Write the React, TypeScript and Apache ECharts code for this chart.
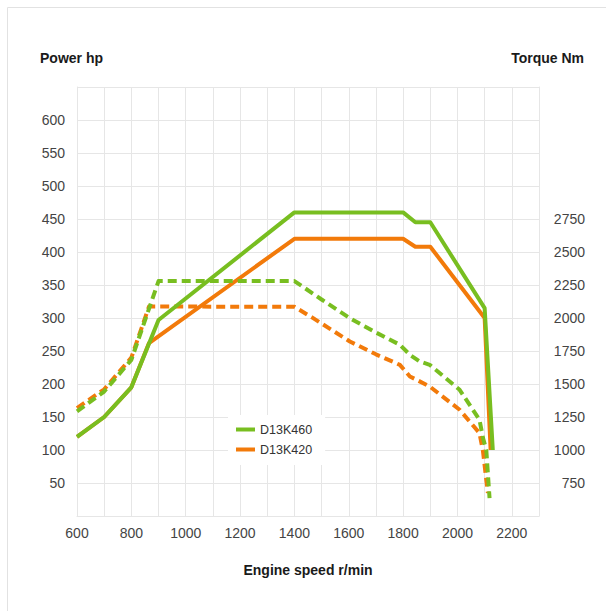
import React, { useEffect, useRef } from "react";
import * as echarts from "echarts";

// Engine speed (r/min) and values for each curve
const d13k460PowerRpm = [600, 700, 800, 900, 1400, 1800, 1845, 1900, 2100, 2130];
const d13k460PowerHp = [120, 150, 195, 297, 460, 460, 445, 445, 315, 100];

const d13k420PowerRpm = [600, 700, 800, 865, 1400, 1800, 1845, 1900, 2100, 2122];
const d13k420PowerHp = [120, 150, 195, 262, 420, 420, 408, 408, 300, 100];

const d13k460TorqueRpm = [600, 700, 800, 900, 1400, 1500, 1604, 1700, 1788, 1825, 1862, 1898, 2008, 2081, 2094, 2106, 2118];
const d13k460TorqueNm = [1292, 1443, 1683, 2280, 2280, 2140, 1999, 1890, 1797, 1721, 1670, 1645, 1456, 1229, 1090, 1002, 636];

const d13k420TorqueRpm = [600, 700, 800, 865, 1400, 1469, 1604, 1700, 1788, 1825, 1898, 2008, 2081, 2094, 2106, 2112];
const d13k420TorqueNm = [1318, 1460, 1700, 2087, 2085, 1999, 1822, 1725, 1645, 1557, 1481, 1305, 1128, 989, 775, 674];

const seriesNames = ["D13K460", "D13K420"];
const xLabels = { min: 600, max: 2300, step: 100 };
const powerTicks = { min: 0, max: 650, step: 50, showFrom: 50, showTo: 600 };
const torqueTicks = { min: 500, max: 3750, step: 250, showFrom: 750, showTo: 2750 };

const GREEN = "#78be20";
const ORANGE = "#f27a0a";
const GRID = "#e6e6e6";
const FONT = "'Liberation Sans', Arial, Helvetica, sans-serif";

const zip = (xs: number[], ys: number[]) => xs.map((x, i) => [x, ys[i]]);

export default function App() {
  const ref = useRef<HTMLDivElement>(null);
  useEffect(() => {
    if (!ref.current) return;
    const chart = echarts.init(ref.current, undefined, { renderer: "svg" });
    const solid = (color: string, w = 4) => ({ color, width: w, type: "solid" as const, cap: "butt" as const, join: "round" as const });
    const dashed = (color: string) => ({ color, width: 4, type: [9, 5], cap: "butt" as const, join: "round" as const });
    chart.setOption({
      animation: false,
      backgroundColor: "#fff",
      textStyle: { fontFamily: FONT },
      grid: { left: 77, right: 67, top: 87, height: 429, containLabel: false },
      legend: {
        data: seriesNames,
        orient: "vertical",
        left: 228,
        top: 415,
        icon: "rect",
        itemWidth: 19,
        itemHeight: 4,
        itemGap: 7,
        padding: [8, 13, 9, 8],
        backgroundColor: "#ffffff",
        textStyle: { fontSize: 12.5, color: "#333", fontFamily: FONT },
        selectedMode: false,
      },
      xAxis: {
        type: "value",
        min: xLabels.min,
        max: xLabels.max,
        interval: xLabels.step,
        name: "Engine speed r/min",
        nameLocation: "middle",
        nameGap: 47,
        nameTextStyle: { fontSize: 14, fontWeight: "bold", color: "#1a1a1a", fontFamily: FONT },
        axisLine: { show: true, lineStyle: { color: GRID } },
        axisTick: { show: false },
        splitLine: { show: true, lineStyle: { color: GRID, width: 1 } },
        axisLabel: {
          fontSize: 14,
          color: "#444",
          margin: 10,
          formatter: (v: number) => ((v - xLabels.min) % 200 === 0 && v < xLabels.max ? String(v) : ""),
        },
      },
      yAxis: [
        {
          type: "value",
          min: powerTicks.min,
          max: powerTicks.max,
          interval: powerTicks.step,
          axisLine: { show: true, lineStyle: { color: GRID } },
          axisTick: { show: false },
          splitLine: { show: true, lineStyle: { color: GRID, width: 1 } },
          axisLabel: {
            fontSize: 14,
            color: "#444",
            margin: 12,
            formatter: (v: number) => (v >= powerTicks.showFrom && v <= powerTicks.showTo ? String(v) : ""),
          },
        },
        {
          type: "value",
          position: "right",
          min: torqueTicks.min,
          max: torqueTicks.max,
          interval: torqueTicks.step,
          axisLine: { show: true, lineStyle: { color: GRID } },
          axisTick: { show: false },
          splitLine: { show: false },
          axisLabel: {
            fontSize: 14,
            color: "#444",
            margin: 46,
            align: "right",
            formatter: (v: number) => (v >= torqueTicks.showFrom && v <= torqueTicks.showTo ? String(v) : ""),
          },
        },
      ],
      graphic: [
        {
          type: "rect",
          silent: true,
          shape: { x: 7.5, y: 7.5, width: 700, height: 700 },
          style: { fill: "none", stroke: "#e2e2e2", lineWidth: 1 },
        },
        {
          type: "text",
          x: 40,
          y: 58,
          style: { text: "Power hp", fontSize: 14, fontWeight: "bold", fill: "#1a1a1a", fontFamily: FONT, align: "left", verticalAlign: "middle" },
        },
        {
          type: "text",
          x: 584,
          y: 58,
          style: { text: "Torque Nm", fontSize: 14, fontWeight: "bold", fill: "#1a1a1a", fontFamily: FONT, align: "right", verticalAlign: "middle" },
        },
      ],
      series: [
        {
          name: seriesNames[0],
          type: "line",
          yAxisIndex: 0,
          data: zip(d13k460PowerRpm, d13k460PowerHp),
          showSymbol: false,
          itemStyle: { color: GREEN },
          lineStyle: solid(GREEN),
          z: 4,
        },
        {
          name: seriesNames[1],
          type: "line",
          yAxisIndex: 0,
          data: zip(d13k420PowerRpm, d13k420PowerHp),
          showSymbol: false,
          itemStyle: { color: ORANGE },
          lineStyle: solid(ORANGE),
          z: 3,
        },
        {
          name: seriesNames[0],
          type: "line",
          yAxisIndex: 1,
          data: zip(d13k460TorqueRpm, d13k460TorqueNm),
          showSymbol: false,
          itemStyle: { color: GREEN },
          lineStyle: dashed(GREEN),
          z: 4,
        },
        {
          name: seriesNames[1],
          type: "line",
          yAxisIndex: 1,
          data: zip(d13k420TorqueRpm, d13k420TorqueNm),
          showSymbol: false,
          itemStyle: { color: ORANGE },
          lineStyle: dashed(ORANGE),
          z: 3,
        },
      ],
    });
    return () => chart.dispose();
  }, []);
  return <div ref={ref} style={{ position: "fixed", left: 0, top: 0, width: 606, height: 611 }} />;
}
